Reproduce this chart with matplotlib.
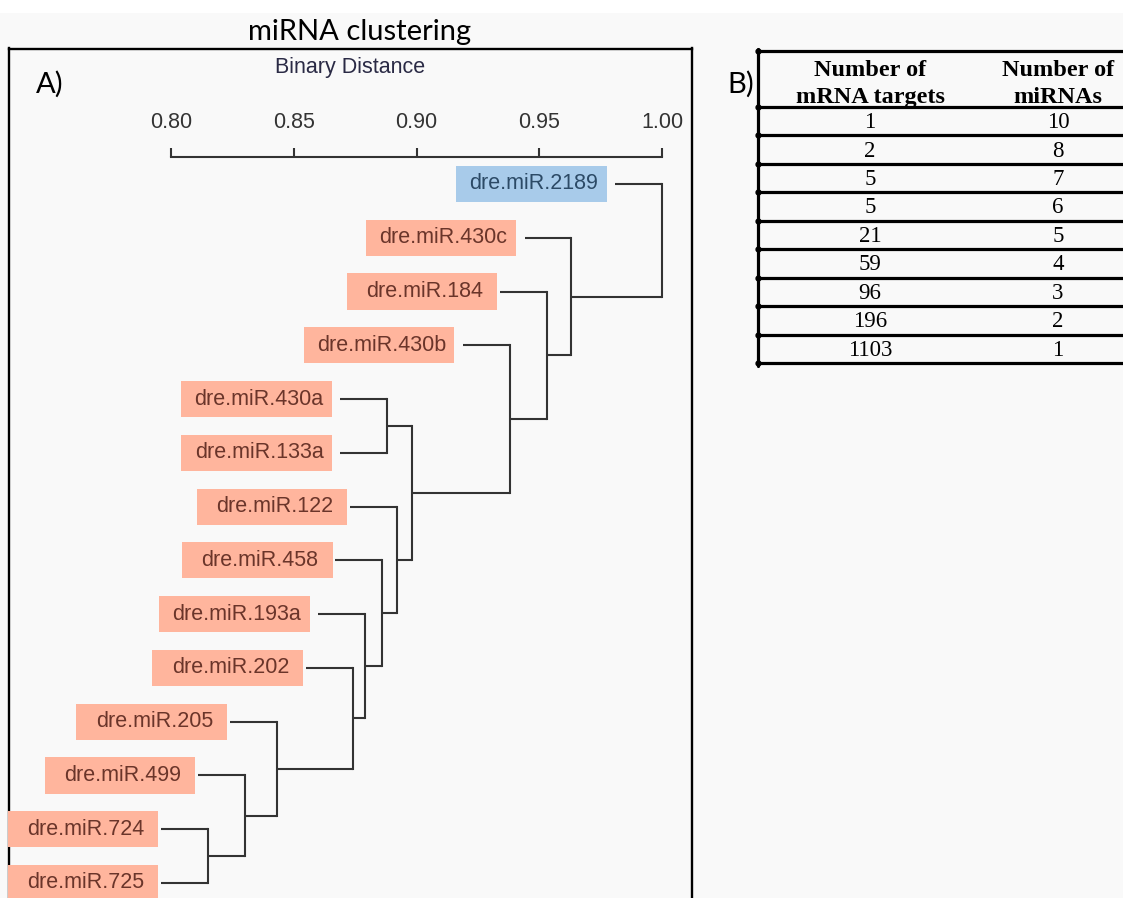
import matplotlib
matplotlib.use('Agg')
import matplotlib.pyplot as plt
from matplotlib.patches import Rectangle
from matplotlib.path import Path

# Etiquetas del dendrograma (de arriba hacia abajo)
etiquetas = ['dre.miR.2189', 'dre.miR.430c', 'dre.miR.184', 'dre.miR.430b',
             'dre.miR.430a', 'dre.miR.133a', 'dre.miR.122', 'dre.miR.458',
             'dre.miR.193a', 'dre.miR.202', 'dre.miR.205', 'dre.miR.499',
             'dre.miR.724', 'dre.miR.725']
grupo_azul = ['dre.miR.2189']

# Uniones: (hijo a, hijo b) y la distancia binaria de cada unión
uniones = [(12, 13), (11, 14), (10, 15), (9, 16), (8, 17), (7, 18), (4, 5),
           (6, 19), (20, 21), (3, 22), (2, 23), (1, 24), (0, 25)]
alturas = [0.815, 0.830, 0.843, 0.874, 0.879, 0.886, 0.888,
           0.892, 0.898, 0.938, 0.953, 0.963, 1.000]
colgado = 0.019

ticks_dist = [0.80, 0.85, 0.90, 0.95, 1.00]

# Tabla B
col_targets = ['1', '2', '5', '5', '21', '59', '96', '196', '1103']
col_mirnas = ['10', '8', '7', '6', '5', '4', '3', '2', '1']
encabezados = ['Number of\nmRNA targets', 'Number of\nmiRNAs']

W, H = 1123, 898
fondo = '#f9f9f9'
salmon = '#ffb59d'
azul = '#a8cbea'

fig = plt.figure(figsize=(W / 100, H / 100), dpi=100, facecolor=fondo)
fig.patches.append(Rectangle((0, 1 - 13 / H), 1, 13 / H, transform=fig.transFigure,
                             fc='white', ec='none', zorder=0))

# ---------------- Panel A: dendrograma ----------------
ax = fig.add_axes([9 / W, -0.01, (692 - 9) / W, 1 - 48.5 / H + 0.01])
ax.set_facecolor(fondo)
ax.set_xlim(0.73401, 1.01222)
ax.set_ylim(13.446, -2.520)
ax.set_xticks([])
ax.set_yticks([])
for lado in ['left', 'top', 'right']:
    ax.spines[lado].set_linewidth(1.7)
ax.spines['bottom'].set_visible(False)


def caja_fija(x0, y0, width, height, mutation_size):
    # caja de ancho fijo centrada en el texto
    cx = x0 + width / 2 - 0.12 * mutation_size
    cy = y0 + height / 2
    w = 7.0 * mutation_size
    h = 1.68 * mutation_size
    return Path([(cx - w / 2, cy - h / 2), (cx + w / 2, cy - h / 2),
                 (cx + w / 2, cy + h / 2), (cx - w / 2, cy + h / 2),
                 (cx - w / 2, cy - h / 2)], closed=True)


n = len(etiquetas)
pos_y = {i: i for i in range(n)}
alt = {}
inicio_hoja = {}
color_linea = '#333333'
for k, ((a, b), h) in enumerate(zip(uniones, alturas)):
    for c in (a, b):
        if c < n:
            x0 = h - colgado
            inicio_hoja[c] = x0
        else:
            x0 = alt[c]
        ax.plot([x0, h], [pos_y[c], pos_y[c]], color=color_linea, lw=1.5,
                solid_capstyle='butt')
    ax.plot([h, h], [pos_y[a], pos_y[b]], color=color_linea, lw=1.5,
            solid_capstyle='projecting')
    pos_y[n + k] = (pos_y[a] + pos_y[b]) / 2
    alt[n + k] = h

for i, et in enumerate(etiquetas):
    if et in grupo_azul:
        fc, tc = azul, '#2c4a66'
    else:
        fc, tc = salmon, '#6a352a'
    ax.annotate(et, xy=(inicio_hoja[i], i), xytext=(-17, 0), textcoords='offset pixels',
                ha='right', va='center', fontsize=15.5, color=tc,
                family='Liberation Sans',
                bbox=dict(boxstyle=caja_fija, fc=fc, ec='none'))

# Eje de distancias dentro del panel
esc = fig.add_axes([9 / W, 1 - 157 / H, (692 - 9) / W, 0.0001])
esc.set_xlim(ax.get_xlim())
esc.patch.set_visible(False)
for lado in ['left', 'bottom', 'right']:
    esc.spines[lado].set_visible(False)
esc.spines['top'].set_bounds(ticks_dist[0], ticks_dist[-1])
esc.spines['top'].set_linewidth(1.5)
esc.spines['top'].set_color(color_linea)
esc.set_yticks([])
esc.xaxis.tick_top()
esc.set_xticks(ticks_dist)
esc.set_xticklabels(['%.2f' % t for t in ticks_dist])
esc.tick_params(axis='x', direction='out', length=6.5, width=1.5, color=color_linea,
                pad=11, labelsize=15.5, labelcolor='#333333')
for t in esc.get_xticklabels():
    t.set_family('Liberation Sans')

ax.text(0.5, 1 - (68 - 48.5) / (H + 9 - 48.5), 'Binary Distance', transform=ax.transAxes,
        ha='center', va='center', fontsize=15.5, color='#2a2a45', family='Liberation Sans')

fig.text(360 / W, 1 - 32 / H, 'miRNA clustering', ha='center', va='center',
         fontsize=21, family='Lato', color='black')
fig.text(36 / W, 1 - 84 / H, 'A)', ha='left', va='center', fontsize=21,
         family='Lato', color='black')
fig.text(727 / W, 1 - 84 / H, 'B)', ha='left', va='center', fontsize=21,
         family='Lato', color='black')

# ---------------- Panel B: tabla ----------------
tab = fig.add_axes([758 / W, 1 - 363 / H, 1 - 758 / W, (363 - 51) / H])
tab.axis('off')
alto_fila = 28.44
alto_enc = 56 / alto_fila
n_filas = len(col_targets)
tab.set_xlim(0, 1)
tab.set_ylim(alto_enc + n_filas, 0)

lineas_y = [0, alto_enc] + [alto_enc + k for k in range(1, n_filas + 1)]
for yl in lineas_y:
    tab.plot([0, 1], [yl, yl], color='black', lw=2.3, clip_on=False,
             solid_capstyle='butt')
    tab.plot([0], [yl], marker='o', ms=3.5, color='black', clip_on=False)
tab.plot([0, 0], [-0.08, alto_enc + n_filas + 0.1], color='black', lw=2.3,
         clip_on=False, solid_capstyle='round')

x_cols = [0.307, 0.822]
for xc, enc in zip(x_cols, encabezados):
    tab.text(xc, alto_enc / 2 + 0.17, enc, ha='center', va='center', fontsize=17.5,
             fontweight='bold', family='Liberation Serif', linespacing=1.4)
for k, (t1, t2) in enumerate(zip(col_targets, col_mirnas)):
    yc = alto_enc + k + 0.55
    tab.text(x_cols[0], yc, t1, ha='center', va='center', fontsize=16.5,
             family='Liberation Serif')
    tab.text(x_cols[1], yc, t2, ha='center', va='center', fontsize=16.5,
             family='Liberation Serif')

fig.savefig('out.png', dpi=100, facecolor=fondo)
